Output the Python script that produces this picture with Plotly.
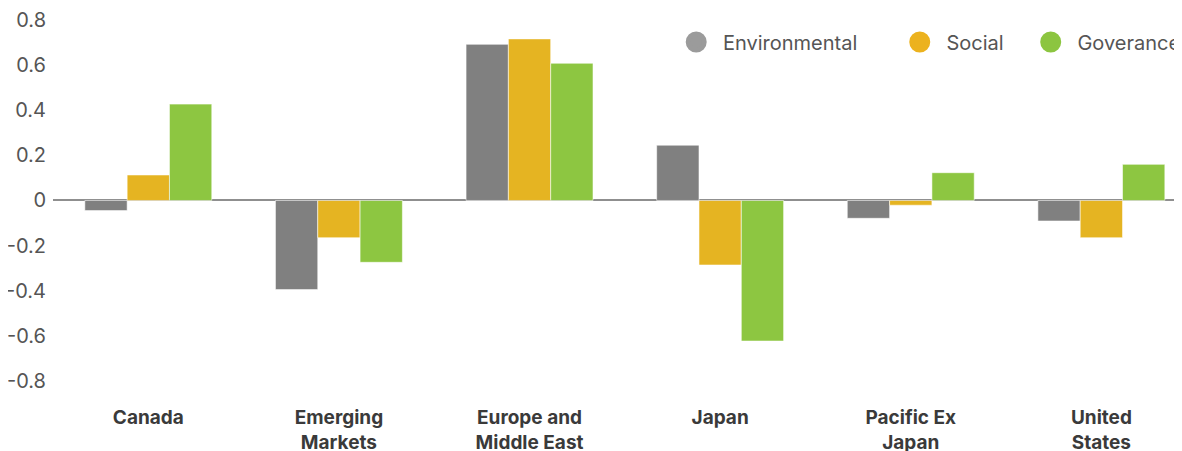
import plotly.graph_objects as go

categories = ["Canada", "Emerging<br>Markets", "Europe and<br>Middle East", "Japan", "Pacific Ex<br>Japan", "United<br>States"]
environmental = [-0.045, -0.395, 0.692, 0.245, -0.079, -0.091]
social = [0.113, -0.165, 0.716, -0.286, -0.021, -0.165]
governance = [0.427, -0.274, 0.608, -0.623, 0.123, 0.160]
series_names = ["Environmental", "Social", "Goverance"]
y_ticks = [0.8, 0.6, 0.4, 0.2, 0, -0.2, -0.4, -0.6, -0.8]
y_tick_labels = ["0.8", "0.6", "0.4", "0.2", "0", "-0.2", "-0.4", "-0.6", "-0.8"]

bar_colors = ["#808080", "#E5B422", "#8DC641"]
legend_colors = ["#9B9B9B", "#ECB21E", "#8CC540"]
legend_x = [0.552, 0.750, 0.866]

FONT = "Inter"

fig = go.Figure()
for name, vals, col in zip(series_names, [environmental, social, governance], bar_colors):
    fig.add_trace(go.Bar(
        x=categories, y=vals, name=name, marker_color=col,
        marker_line=dict(color="rgba(255,255,255,0.55)", width=1),
        showlegend=False,
    ))

for i, (name, col) in enumerate(zip(series_names, legend_colors)):
    lg = "legend" if i == 0 else f"legend{i+1}"
    fig.add_trace(go.Scatter(
        x=[None], y=[None], mode="markers", name="\u2004" + name, legend=lg,
        marker=dict(symbol="circle", size=16, color=col, line=dict(color=col, width=5)),
        showlegend=True,
    ))

legend_common = dict(
    orientation="h", yanchor="middle", xanchor="left", y=0.917,
    font=dict(family=FONT, size=20, color="#555555"),
    bgcolor="rgba(0,0,0,0)", borderwidth=0, itemsizing="trace",
)

# page body has an 8px default margin; margins compensate so the plot sits where the reference has it
fig.update_layout(
    width=1182, height=451,
    margin=dict(l=45, r=8, t=2, b=64, autoexpand=False),
    paper_bgcolor="white", plot_bgcolor="white",
    barmode="group", bargap=0.334, bargroupgap=0,
    legend=dict(x=legend_x[0], **legend_common),
    legend2=dict(x=legend_x[1], **legend_common),
    legend3=dict(x=legend_x[2], **legend_common),
    xaxis=dict(
        range=[-0.5, 5.423], showgrid=False, showline=False, ticks="",
        tickfont=dict(family=FONT, size=19, color="#3a3a3a", weight="bold"),
        ticklabelstandoff=9,
    ),
    yaxis=dict(
        range=[-0.862, 0.844], tickvals=y_ticks, ticktext=y_tick_labels,
        showgrid=False, showline=False, ticks="",
        zeroline=True, zerolinecolor="#8f8f8f", zerolinewidth=2,
        tickfont=dict(family=FONT, size=20, color="#555555"),
        ticklabelstandoff=6, ticklabeloverflow="allow",
    ),
    showlegend=True,
)

fig.write_html("out.html")
